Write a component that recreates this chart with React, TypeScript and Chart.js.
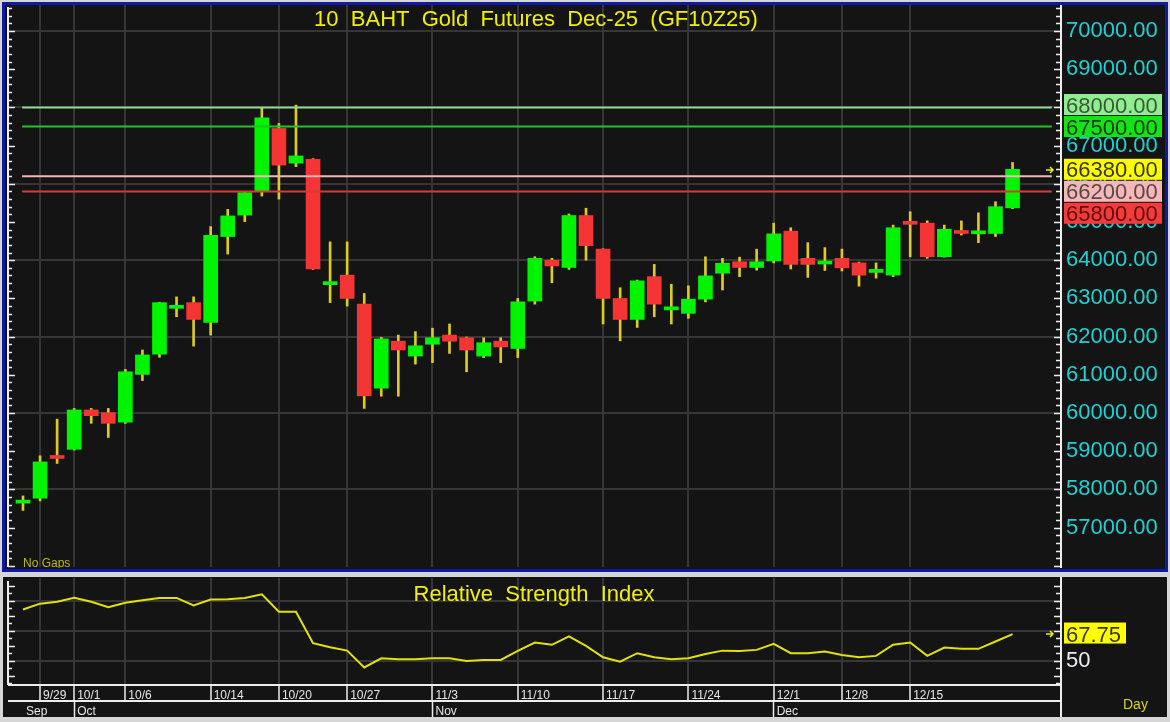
import React, { useEffect, useRef } from 'react';
import { Chart, registerables } from 'chart.js';

Chart.register(...registerables);

// ---------- data ----------
const tradeDates = ['9/26','9/29','9/30','10/1','10/2','10/3','10/6','10/7','10/8','10/9','10/10','10/14','10/15','10/16','10/17','10/20','10/21','10/22','10/24','10/27','10/28','10/29','10/30','10/31','11/3','11/4','11/5','11/6','11/7','11/10','11/11','11/12','11/13','11/14','11/17','11/18','11/19','11/20','11/21','11/24','11/25','11/26','11/27','11/28','12/1','12/2','12/3','12/4','12/8','12/9','12/11','12/12','12/15','12/16','12/17','12/18','12/19','12/22','12/23'];

const opens = [57640,57770,58880,59050,60080,60010,59760,61010,61540,62740,62890,62370,64620,65180,65810,67450,66540,66640,63360,63610,62850,60650,61880,61490,61800,62040,61970,61490,61880,61690,62930,64000,63810,65170,64290,63000,62450,63570,62700,62610,62980,63660,63960,63810,63980,64760,64050,63900,64050,63930,63680,63610,65010,64970,64090,64770,64690,64700,65370];
const highs = [57830,58880,59840,60120,60120,60120,61140,61650,62900,63040,63040,64880,65330,65800,67990,67580,68060,66660,64480,64480,63130,61980,62040,62130,62220,62330,61990,61970,61970,63000,64090,64050,65210,65360,64300,63280,63480,63890,63370,63330,64090,64050,64080,64290,64970,64850,64460,64330,64290,63950,63930,64920,65270,65030,64920,65030,65240,65530,66560];
const lows = [57450,57700,58680,59030,59730,59360,59730,60850,61460,62520,61750,62040,64160,65010,65680,65600,66450,63760,62890,62800,60120,60440,60440,61280,61320,61560,61080,61450,61320,61450,62850,63410,63760,64000,62330,61890,62240,62520,62330,62480,62910,63220,63570,63740,63930,63770,63550,63730,63720,63320,63530,63570,64090,64050,64080,64660,64460,64620,65350];
const closes = [57720,58720,58810,60080,59930,59730,61080,61520,62890,62820,62450,64650,65160,65770,67730,66490,66730,63770,63440,63000,60450,61940,61650,61760,61970,61880,61650,61840,61730,62910,64050,63850,65170,64380,63000,62450,63460,62850,62780,62980,63590,63920,63810,63960,64690,63890,63890,63980,63800,63610,63760,64850,64940,64090,64810,64700,64770,65400,66380];

const rsiValues = [84.1,88.0,89.3,92.0,89.3,85.7,88.6,90.2,91.8,91.8,86.8,90.7,90.9,91.8,94.2,82.6,82.6,61.7,59.0,56.7,45.5,51.6,50.9,50.9,51.6,51.6,49.8,50.5,50.5,56.5,62.1,60.6,66.2,59.9,52.3,49.3,55.0,52.3,50.9,51.6,54.5,56.7,56.5,57.2,61.2,55.0,55.0,56.1,53.8,52.3,53.2,60.6,62.1,53.2,58.8,57.9,57.9,62.8,67.75];

const dateTickLabels = ['9/29','10/1','10/6','10/14','10/20','10/27','11/3','11/10','11/17','11/24','12/1','12/8','12/15'];
const monthLabels = ['Sep','Oct','Nov','Dec'];
const monthFirstDays = ['9/26','10/1','11/3','12/1'];
const priceTicks = [57000,58000,59000,60000,61000,62000,63000,64000,65000,66000,67000,68000,69000,70000];
const rsiGridValues = [50,70,90];
const rsiLabelled = [50];
const levelValues = [68000, 67500, 66200, 65800];

const titleText = '10  BAHT  Gold  Futures  Dec-25  (GF10Z25)';
const rsiTitle = 'Relative  Strength  Index';
const gapsText = 'No Gaps';
const periodText = 'Day';

// ---------- styles ----------
const FONT = '"Liberation Sans", Arial, sans-serif';
const BG = '#141414';
const GRID = '#363636';
const AXIS = '#eeeeee';
const CYAN = '#1fd0d0';
const YELLOW = '#f0f000';
const GREEN = '#00f400';
const RED = '#f53434';
const WICK = '#dccb22';
const levelStyles = [
  { line: '#8fdc8f', box: '#90ee90', text: '#3a583a' },
  { line: '#1ec81e', box: '#14e414', text: '#0c3a0c' },
  { line: '#f2b8b8', box: '#f5b7b7', text: '#5a4848' },
  { line: '#d83a3a', box: '#f23c3c', text: '#640a0a' },
];
const lastStyle = { box: '#ffff00', text: '#38380e' };

const X_MIN = -0.82;
const X_MAX = 60.84;

const dateTickIdx = dateTickLabels.map((d) => tradeDates.indexOf(d));
const monthTickIdx = monthFirstDays.map((d) => tradeDates.indexOf(d));

function drawArrow(ctx: CanvasRenderingContext2D, xr: number, y: number) {
  ctx.strokeStyle = YELLOW;
  ctx.lineWidth = 1.5;
  ctx.beginPath();
  ctx.moveTo(xr - 15, y);
  ctx.lineTo(xr - 8, y);
  ctx.moveTo(xr - 11, y - 3);
  ctx.lineTo(xr - 8, y);
  ctx.lineTo(xr - 11, y + 3);
  ctx.stroke();
}

const mainDecor = {
  id: 'mainDecor',
  afterDraw(chart: any) {
    const { ctx, chartArea: ca, scales } = chart;
    const ys = scales.y;
    ctx.save();
    // left axis
    ctx.strokeStyle = AXIS;
    ctx.lineWidth = 2;
    ctx.beginPath();
    ctx.moveTo(ca.left - 1, ca.top + 2);
    ctx.lineTo(ca.left - 1, ca.bottom);
    ctx.stroke();
    ctx.lineWidth = 1.5;
    for (let v = Math.ceil(ys.min / 200) * 200; v <= ys.max; v += 200) {
      const py = Math.round(ys.getPixelForValue(v)) + 0.5;
      const major = v % 1000 === 0;
      ctx.beginPath();
      ctx.moveTo(ca.left - 1, py);
      ctx.lineTo(ca.left - 1 + (major ? 7 : 4), py);
      ctx.moveTo(ca.right, py);
      ctx.lineTo(ca.right - (major ? 7 : 5), py);
      ctx.stroke();
    }
    // title
    ctx.fillStyle = YELLOW;
    ctx.font = '22px ' + FONT;
    ctx.textAlign = 'center';
    ctx.textBaseline = 'alphabetic';
    ctx.fillText(titleText, (ca.left + ca.right) / 2 + 1, ca.top + 21);
    // no gaps
    ctx.fillStyle = '#bcbc00';
    ctx.font = '12px ' + FONT;
    ctx.textAlign = 'left';
    ctx.fillText(gapsText, ca.left + 14, ca.bottom);
    // level label boxes
    const h = 21;
    const gap = 1;
    const last = closes[closes.length - 1];
    const items: any[] = levelValues.map((v, i) => ({ v, style: levelStyles[i] }));
    const anchorY = ys.getPixelForValue(last);
    const placed: any[] = [{ v: last, style: lastStyle, c: anchorY }];
    const above = items.filter((it) => it.v > last).sort((a, b) => a.v - b.v);
    const below = items.filter((it) => it.v <= last).sort((a, b) => b.v - a.v);
    let edge = anchorY - h / 2;
    for (const it of above) {
      const c = Math.min(ys.getPixelForValue(it.v), edge - gap - h / 2);
      placed.push({ ...it, c });
      edge = c - h / 2;
    }
    edge = anchorY + h / 2;
    for (const it of below) {
      const c = Math.max(ys.getPixelForValue(it.v), edge + gap + h / 2);
      placed.push({ ...it, c });
      edge = c + h / 2;
    }
    ctx.font = '22px ' + FONT;
    for (const p of placed) {
      ctx.fillStyle = p.style.box;
      ctx.fillRect(ca.right + 3, p.c - h / 2, 98, h);
      ctx.fillStyle = p.style.text;
      ctx.fillText(p.v.toFixed(2), ca.right + 5, p.c + 8);
    }
    drawArrow(ctx, ca.right, Math.round(anchorY) + 1);
    ctx.restore();
  },
};

const rsiDecor = {
  id: 'rsiDecor',
  afterDraw(chart: any) {
    const { ctx, chartArea: ca, scales, height } = chart;
    const ys = scales.y;
    ctx.save();
    ctx.strokeStyle = AXIS;
    ctx.lineWidth = 2;
    ctx.beginPath();
    ctx.moveTo(ca.left - 1, ca.top + 3);
    ctx.lineTo(ca.left - 1, ca.bottom);
    ctx.moveTo(ca.right, ca.bottom);
    ctx.lineTo(ca.right, height);
    ctx.stroke();
    ctx.lineWidth = 1.5;
    for (let v = Math.ceil(ys.min / 5) * 5; v <= ys.max - 1; v += 5) {
      const py = Math.round(ys.getPixelForValue(v)) + 0.5;
      const major = v % 10 === 0;
      ctx.beginPath();
      ctx.moveTo(ca.left - 1, py);
      ctx.lineTo(ca.left - 1 + (major ? 7 : 4), py);
      ctx.moveTo(ca.right, py);
      ctx.lineTo(ca.right - (major ? 7 : 5), py);
      ctx.stroke();
    }
    ctx.fillStyle = YELLOW;
    ctx.font = '22px ' + FONT;
    ctx.textAlign = 'center';
    ctx.textBaseline = 'alphabetic';
    ctx.fillText(rsiTitle, (ca.left + ca.right) / 2 - 1, ca.top + 23);
    // last value box
    const last = rsiValues[rsiValues.length - 1];
    const yl = ys.getPixelForValue(last);
    ctx.fillStyle = lastStyle.box;
    ctx.fillRect(ca.right + 3, yl - 11.5, 62, 21);
    ctx.fillStyle = lastStyle.text;
    ctx.textAlign = 'left';
    ctx.fillText(last.toFixed(2), ca.right + 5, yl + 7.5);
    drawArrow(ctx, ca.right, Math.round(yl));
    ctx.fillStyle = '#d8d800';
    ctx.font = '14px ' + FONT;
    ctx.fillText(periodText, ca.right + 62, height - 8);
    ctx.restore();
  },
};

export default function App() {
  const mainRef = useRef<HTMLCanvasElement>(null);
  const rsiRef = useRef<HTMLCanvasElement>(null);

  useEffect(() => {
    document.body.style.margin = '0';
    const levelEnd = tradeDates.length + 1.3;
    const main = new Chart(mainRef.current as HTMLCanvasElement, {
      type: 'bar',
      data: {
        datasets: [
          ...levelValues.map((v, i) => ({
            type: 'line' as const,
            data: [{ x: -0.05, y: v }, { x: levelEnd, y: v }],
            borderColor: levelStyles[i].line,
            borderWidth: 2,
            pointRadius: 0,
            order: 0,
          })),
          {
            type: 'bar' as const,
            data: tradeDates.map((_, i) => ({ x: i, y: [opens[i], closes[i]] })),
            backgroundColor: tradeDates.map((_, i) => (closes[i] >= opens[i] ? GREEN : RED)),
            borderWidth: 0,
            barThickness: 14,
            maxBarThickness: 14,
            minBarLength: 3,
            grouped: false,
            order: 1,
          },
          {
            type: 'bar' as const,
            data: tradeDates.map((_, i) => ({ x: i, y: [lows[i], highs[i]] })),
            backgroundColor: WICK,
            borderWidth: 0,
            barThickness: 2,
            maxBarThickness: 2,
            grouped: false,
            order: 2,
          },
        ] as any,
      },
      options: {
        responsive: false,
        animation: false,
        events: [],
        layout: { padding: { left: 4, top: 0, right: 0, bottom: 1 } },
        plugins: { legend: { display: false }, tooltip: { enabled: false }, title: { display: false } },
        scales: {
          x: {
            type: 'linear',
            min: X_MIN,
            max: X_MAX,
            offset: false,
            grid: { offset: false, color: GRID, lineWidth: 2, drawTicks: false },
            border: { display: false },
            ticks: { display: false },
            afterBuildTicks: (s: any) => { s.ticks = dateTickIdx.map((v) => ({ value: v })); },
            afterFit: (s: any) => { s.height = 0; s.paddingLeft = 0; s.paddingRight = 0; },
          },
          y: {
            type: 'linear',
            position: 'right',
            min: 55969,
            max: 70681,
            beginAtZero: false,
            grid: {
              color: (c: any) => (c.tick && c.tick.value % 2000 === 0 ? GRID : 'rgba(0,0,0,0)'),
              lineWidth: 2,
              drawTicks: false,
            },
            border: { display: true, color: AXIS, width: 2 },
            ticks: {
              color: CYAN,
              font: { family: FONT, size: 22 },
              padding: 5,
              callback: (v: any) => Number(v).toFixed(2),
            },
            afterBuildTicks: (s: any) => { s.ticks = priceTicks.map((v) => ({ value: v })); },
            afterFit: (s: any) => { s.width = 104; s.paddingTop = 0; s.paddingBottom = 0; },
          },
        } as any,
      },
      plugins: [mainDecor],
    });

    const rsi = new Chart(rsiRef.current as HTMLCanvasElement, {
      type: 'line',
      data: {
        datasets: [
          {
            data: rsiValues.map((v, i) => ({ x: i, y: v })),
            borderColor: '#e2e200',
            borderWidth: 2,
            pointRadius: 0,
            tension: 0,
          },
        ],
      },
      options: {
        responsive: false,
        animation: false,
        events: [],
        layout: { padding: { left: 6, top: 1, right: 0, bottom: 0 } },
        plugins: { legend: { display: false }, tooltip: { enabled: false } },
        scales: {
          x: {
            type: 'linear',
            position: 'bottom',
            weight: 0,
            min: X_MIN,
            max: X_MAX,
            offset: false,
            grid: { offset: false, color: GRID, lineWidth: 2, drawTicks: true, tickLength: 16, tickColor: AXIS, tickWidth: 1.5 },
            border: { display: true, color: AXIS, width: 2 },
            ticks: {
              autoSkip: false,
              maxRotation: 0,
              minRotation: 0,
              align: 'start',
              labelOffset: 3,
              padding: -13,
              color: '#e6e6e6',
              font: { family: FONT, size: 12 },
              callback: (_v: any, idx: number) => dateTickLabels[idx],
            },
            afterBuildTicks: (s: any) => { s.ticks = dateTickIdx.map((v) => ({ value: v })); },
            afterFit: (s: any) => { s.height = 16; s.paddingLeft = 0; s.paddingRight = 0; },
          },
          xm: {
            type: 'linear',
            axis: 'x',
            position: 'bottom',
            weight: 1,
            min: X_MIN,
            max: X_MAX,
            offset: false,
            grid: {
              offset: false,
              drawOnChartArea: false,
              drawTicks: true,
              tickLength: 16,
              tickWidth: 1.5,
              tickColor: (c: any) => (c.index === 0 ? 'rgba(0,0,0,0)' : AXIS),
            },
            border: { display: true, color: AXIS, width: 2 },
            ticks: {
              autoSkip: false,
              maxRotation: 0,
              minRotation: 0,
              align: 'start',
              labelOffset: 3,
              padding: -13,
              color: '#e6e6e6',
              font: { family: FONT, size: 12 },
              callback: (_v: any, idx: number) => monthLabels[idx],
            },
            afterBuildTicks: (s: any) => { s.ticks = monthTickIdx.map((v) => ({ value: v })); },
            afterFit: (s: any) => { s.height = 16; s.paddingLeft = 0; s.paddingRight = 0; },
          },
          y: {
            type: 'linear',
            position: 'right',
            min: 33.8,
            max: 105.1,
            beginAtZero: false,
            grid: { color: GRID, lineWidth: 2, drawTicks: false },
            border: { display: true, color: AXIS, width: 2 },
            ticks: {
              color: '#ececf4',
              font: { family: FONT, size: 22 },
              padding: 5,
              callback: (v: any) => (rsiLabelled.includes(Number(v)) ? String(v) : ''),
            },
            afterBuildTicks: (s: any) => { s.ticks = rsiGridValues.map((v) => ({ value: v })); },
            afterFit: (s: any) => { s.width = 106; s.paddingTop = 0; s.paddingBottom = 0; },
          },
        } as any,
      },
      plugins: [rsiDecor],
    });

    return () => {
      main.destroy();
      rsi.destroy();
    };
  }, []);

  return (
    <div style={{ position: 'absolute', left: 0, top: 0, width: 1170, height: 722, background: '#d6d6d6', overflow: 'hidden' }}>
      <div
        style={{
          position: 'absolute',
          left: 2,
          top: 2,
          width: 1166,
          height: 570,
          boxSizing: 'border-box',
          border: '3px solid #1018a8',
          background: BG,
        }}
      />
      <canvas ref={mainRef} width={1160} height={563} style={{ position: 'absolute', left: 5, top: 5 }} />
      <div style={{ position: 'absolute', left: 3, top: 577, width: 1164, height: 140, background: BG }} />
      <canvas ref={rsiRef} width={1164} height={140} style={{ position: 'absolute', left: 3, top: 577 }} />
    </div>
  );
}
